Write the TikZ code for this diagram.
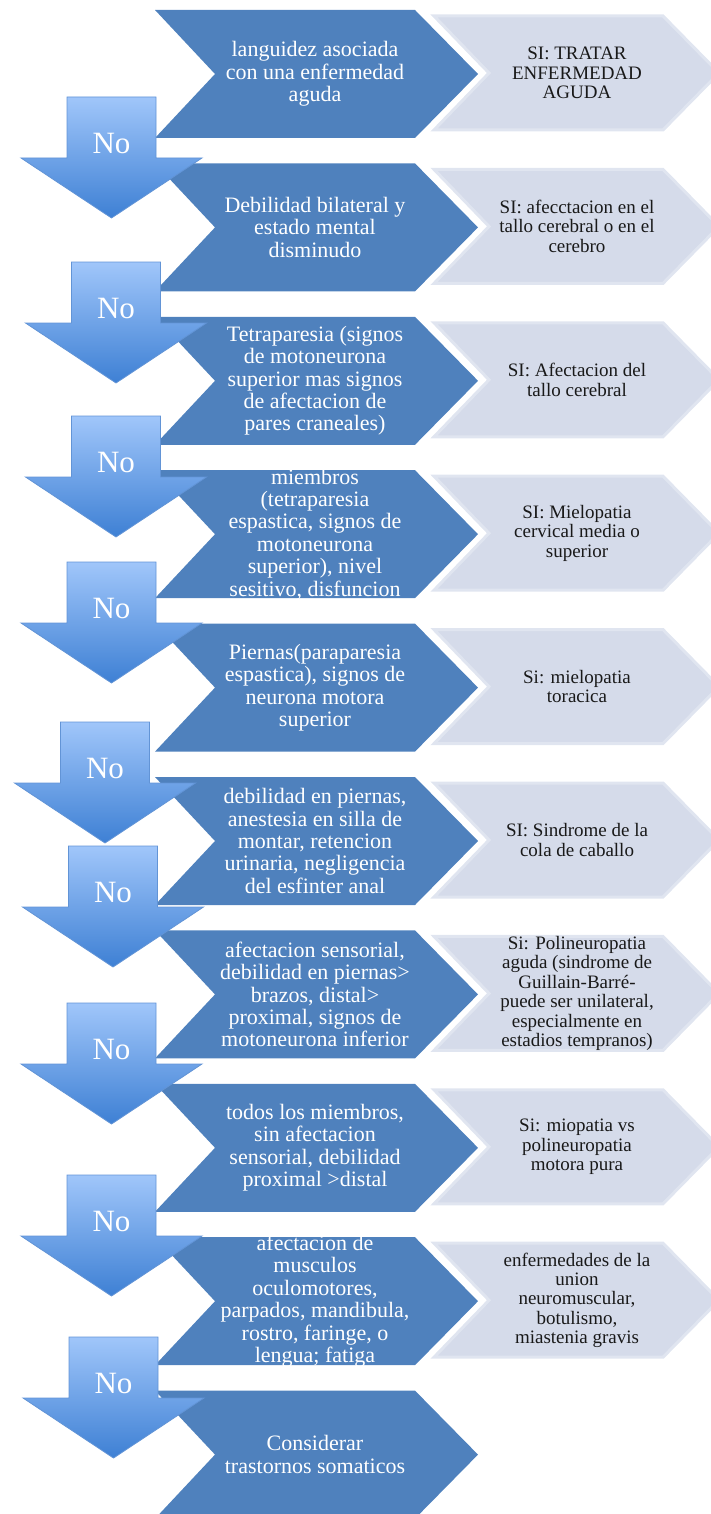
\documentclass[tikz,border=0pt]{standalone}
\usepackage{fontspec}
\setmainfont{Liberation Serif}

\definecolor{stepblue}{RGB}{79,129,189}
\definecolor{sigray}{RGB}{213,219,234}
\definecolor{sigedge}{RGB}{224,229,240}
\definecolor{arrowtop}{RGB}{160,198,250}
\definecolor{arrowbot}{RGB}{62,128,212}
\definecolor{arrowedge}{RGB}{98,148,214}

% chevron outlines, #1 = centre line of the row
\newcommand{\darkchev}[1]{\fill[stepblue] (155,{#1-64}) -- (415,{#1-64}) -- (478,#1) -- (415,{#1+64}) -- (155,{#1+64}) -- (215,#1) -- cycle;}
\newcommand{\lightchev}[1]{\filldraw[fill=sigray,draw=sigedge,line width=3pt,line join=miter] (434,{#1-57}) -- (663,{#1-57}) -- (719,#1) -- (663,{#1+57}) -- (434,{#1+57}) -- (489,#1) -- cycle;}
% down arrow, #1 = shaft centre, #2 = top of the shaft
\newcommand{\noarrow}[2]{\path[arrowbody] ({#1-44.5},#2) -- ({#1+44.5},#2) -- ({#1+44.5},{#2+61}) -- ({#1+90.5},{#2+61}) -- (#1,{#2+121}) -- ({#1-90.5},{#2+61}) -- ({#1-44.5},{#2+61}) -- cycle;}

\begin{document}
\begin{tikzpicture}[
		x=1pt, y=-1pt,
		stepnode/.style={
		% The text:
		align=center,
		text=white,
		inner sep=0pt,
		font=\fontsize{22}{22.4}\selectfont
		},
		sinode/.style={
		align=center,
		text=black!90,
		inner sep=0pt,
		font=\fontsize{19}{19.4}\selectfont
		},
		nonode/.style={
		text=white,
		inner sep=0pt,
		font=\fontsize{31}{31}\selectfont
		},
		arrowbody/.style={
		top color=arrowtop,
		bottom color=arrowbot,
		draw=arrowedge,
		line width=0.8pt,
		line join=miter
		}
	]
	\useasboundingbox (0,0) rectangle (710,1514);

	% questions on the left
	\darkchev{74}
	\darkchev{227.4}
	\darkchev{380.8}
	\darkchev{534.2}
	\darkchev{687.6}
	\darkchev{841}
	\darkchev{994.4}
	\darkchev{1147.8}
	\darkchev{1301.2}
	\darkchev{1454.6}

	% answers on the right
	\lightchev{73}
	\lightchev{226.4}
	\lightchev{379.8}
	\lightchev{533.2}
	\lightchev{686.6}
	\lightchev{840}
	\lightchev{993.4}
	\lightchev{1146.8}
	\lightchev{1300.2}

	\node (Q1)[stepnode] at (315,74) {languidez asociada\\con una enfermedad\\aguda};
	\node (Q2)[stepnode] at (315,227.4) {Debilidad bilateral y\\estado mental\\disminudo};
	\node (Q3)[stepnode] at (315,380.8) {Tetraparesia (signos\\de motoneurona\\superior mas signos\\de afectacion de\\pares craneales)};
	\node (Q4)[stepnode] at (315,534.2) {miembros\\(tetraparesia\\espastica, signos de\\motoneurona\\superior), nivel\\sesitivo, disfuncion};
	\node (Q5)[stepnode] at (315,687.6) {Piernas(paraparesia\\espastica), signos de\\neurona motora\\superior};
	\node (Q6)[stepnode] at (315,841) {debilidad en piernas,\\anestesia en silla de\\montar, retencion\\urinaria, negligencia\\del esfinter anal};
	\node (Q7)[stepnode] at (315,994.4) {afectacion sensorial,\\debilidad en piernas>\\brazos, distal>\\proximal, signos de\\motoneurona inferior};
	\node (Q8)[stepnode] at (315,1147.8) {todos los miembros,\\sin afectacion\\sensorial, debilidad\\proximal >distal};
	\node (Q9)[stepnode] at (315,1301.2) {afectacion de\\musculos\\oculomotores,\\parpados, mandibula,\\rostro, faringe, o\\lengua; fatiga};
	\node (Q10)[stepnode] at (315,1454.6) {Considerar\\trastornos somaticos};

	\node (S1)[sinode] at (577,73) {SI: TRATAR\\ENFERMEDAD\\AGUDA};
	\node (S2)[sinode] at (577,226.4) {SI: afecctacion en el\\tallo cerebral o en el\\cerebro};
	\node (S3)[sinode] at (577,379.8) {SI: Afectacion del\\tallo cerebral};
	\node (S4)[sinode] at (577,533.2) {SI: Mielopatia\\cervical media o\\superior};
	\node (S5)[sinode] at (577,686.6) {Si: mielopatia\\toracica};
	\node (S6)[sinode] at (577,840) {SI: Sindrome de la\\cola de caballo};
	\node (S7)[sinode] at (577,993.4) {Si: Polineuropatia\\aguda (sindrome de\\Guillain-Barré-\\puede ser unilateral,\\especialmente en\\estadios tempranos)};
	\node (S8)[sinode] at (577,1146.8) {Si: miopatia vs\\polineuropatia\\motora pura};
	\node (S9)[sinode] at (577,1300.2) {enfermedades de la\\union\\neuromuscular,\\botulismo,\\miastenia gravis};

	% the "No" arrows go over the chevrons
	\noarrow{111.5}{97}
	\noarrow{116}{262}
	\noarrow{116}{416}
	\noarrow{111.5}{562}
	\noarrow{105}{722}
	\noarrow{113}{846}
	\noarrow{111.5}{1003}
	\noarrow{111.5}{1175}
	\noarrow{113.5}{1337}

	\node (N1)[nonode] at (111.5,143.5) {No};
	\node (N2)[nonode] at (116,308.5) {No};
	\node (N3)[nonode] at (116,462.5) {No};
	\node (N4)[nonode] at (111.5,608.5) {No};
	\node (N5)[nonode] at (105,768.5) {No};
	\node (N6)[nonode] at (113,892.5) {No};
	\node (N7)[nonode] at (111.5,1049.5) {No};
	\node (N8)[nonode] at (111.5,1221.5) {No};
	\node (N9)[nonode] at (113.5,1383.5) {No};
\end{tikzpicture}
\end{document}
